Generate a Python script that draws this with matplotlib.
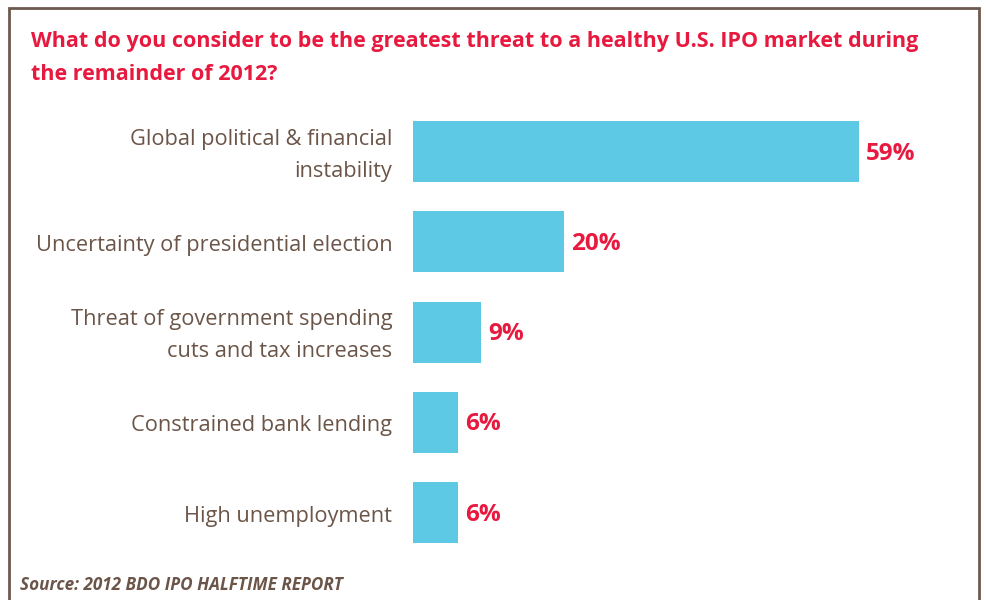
import numpy as np
import matplotlib
matplotlib.use("Agg")
import matplotlib.pyplot as plt

plt.rcParams['font.family'] = ['Open Sans', 'DejaVu Sans']

categories = ["Global political & financial\ninstability",
              "Uncertainty of presidential election",
              "Threat of government spending\ncuts and tax increases",
              "Constrained bank lending",
              "High unemployment"]
values = [59, 20, 9, 6, 6]
title_lines = ["What do you consider to be the greatest threat to a healthy U.S. IPO market during",
               "the remainder of 2012?"]
source = "Source: 2012 BDO IPO HALFTIME REPORT"

bar_color = "#5ec9e5"
red = "#e8193f"
brown = "#6b5548"

W, H = 987, 600
fig = plt.figure(figsize=(W / 100, H / 100), dpi=100)

# frame around the panel, open at the bottom
frame = fig.add_axes([0, 0, 1, 1])
frame.set_xlim(0, W)
frame.set_ylim(H, 0)
frame.axis("off")
frame.plot([9, 9, 979, 979], [H + 5, 8, 8, H + 5], color="#6b5a4e", lw=2, solid_joinstyle="miter")

for i, line in enumerate(title_lines):
    frame.text(31, 47 + 33 * i, line, color=red, fontsize=15.5, fontweight="bold",
               va="baseline", ha="left")
frame.text(20, 590, source, color=brown, fontsize=12.3, fontweight="bold",
           style="italic", va="baseline", ha="left")

# bar chart
x0, x1 = 413, 942
top, bot = 106.5, 557.75
ax = fig.add_axes([x0 / W, 1 - bot / H, (x1 - x0) / W, (bot - top) / H])
xmax = (x1 - x0) / (446 / 59)
ypos = np.arange(len(values))
ax.barh(ypos, values, height=0.675, color=bar_color)
ax.set_xlim(0, xmax)
ax.set_ylim(len(values) - 0.5, -0.5)
ax.axis("off")

for y, v, c in zip(ypos, values, categories):
    ax.annotate(f"{v}%", (v, y), xytext=(5, -1.5), textcoords="offset points",
                color=red, fontsize=17.5, fontweight="bold", va="center", ha="left")
    ax.annotate(c, (0, y), xytext=(-15, -2.5), textcoords="offset points",
                color=brown, fontsize=15.7, va="center", ha="right",
                multialignment="right", linespacing=1.68)

fig.savefig("out.png", dpi=100)
